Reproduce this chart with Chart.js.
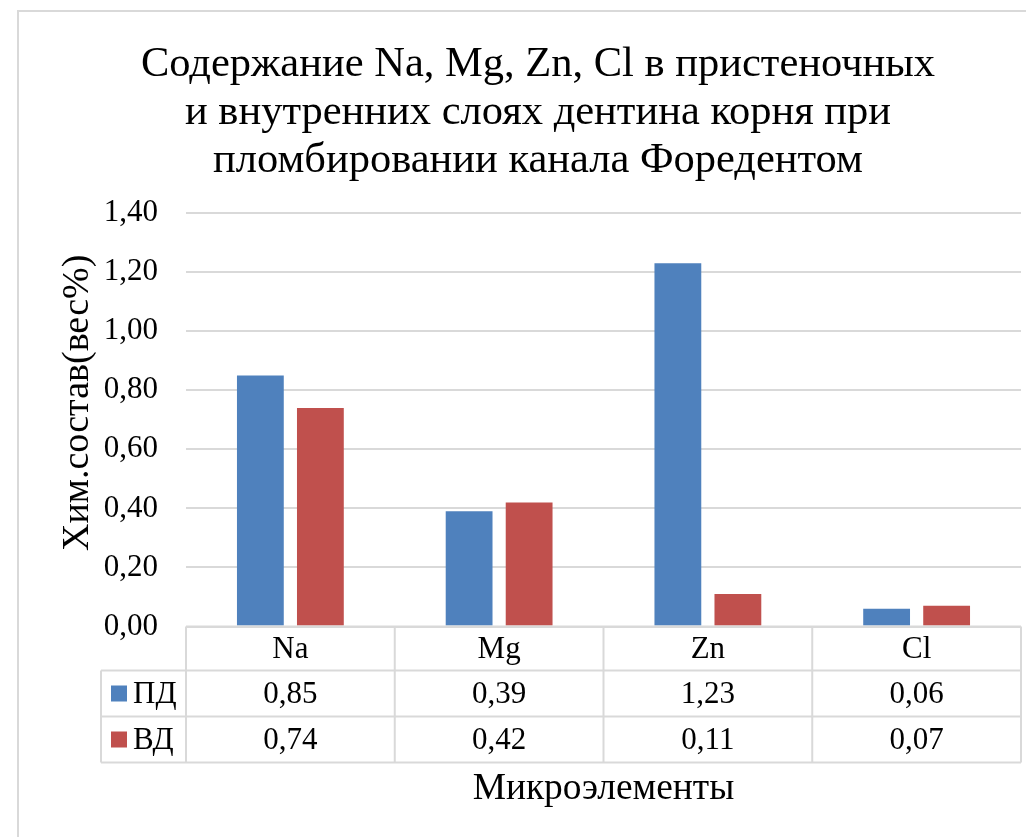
<!DOCTYPE html>
<html>
<head>
<meta charset="utf-8">
<script src="https://cdn.jsdelivr.net/npm/chart.js@4.4.1/dist/chart.umd.min.js"></script>
<style>
  html, body { margin: 0; padding: 0; background: #ffffff; }
  #wrap { width: 1026px; height: 837px; position: relative; }
</style>
</head>
<body>
<div id="wrap"><canvas id="c" width="1026" height="837"></canvas></div>
<script>
const chartTitle = ['Содержание Na, Mg, Zn, Cl в пристеночных', 'и внутренних слоях дентина корня при', 'пломбировании канала Форедентом'];
const categories = ['Na', 'Mg', 'Zn', 'Cl'];
const seriesNames = ['ПД', 'ВД'];
const seriesPD = [0.85, 0.39, 1.23, 0.06];
const seriesVD = [0.74, 0.42, 0.11, 0.07];
const seriesColors = ['#4f81bd', '#c0504d'];
const yAxisTitle = 'Хим.состав(вес%)';
const xAxisTitle = 'Микроэлементы';
const yMin = 0, yMax = 1.4, yStep = 0.2;

const FONT = "'Liberation Serif', 'Times New Roman', serif";
const GRID = '#d9d9d9';
const fmt = v => Number(v).toFixed(2).replace('.', ',');

const frame = {
  id: 'frame',
  beforeDraw(chart) {
    const ctx = chart.ctx;
    ctx.save();
    ctx.fillStyle = '#ffffff';
    ctx.fillRect(0, 0, chart.width, chart.height);
    ctx.strokeStyle = GRID;
    ctx.lineWidth = 2;
    ctx.strokeRect(18, 11, chart.width + 40, chart.height + 40);
    ctx.restore();
  }
};

const yTitle = {
  id: 'yTitle',
  afterDraw(chart) {
    const ctx = chart.ctx;
    const area = chart.chartArea;
    ctx.save();
    ctx.translate(78, (area.top + area.bottom) / 2 - 17);
    ctx.rotate(-Math.PI / 2);
    ctx.fillStyle = '#000000';
    ctx.font = '38px ' + FONT;
    ctx.textAlign = 'center';
    ctx.textBaseline = 'middle';
    ctx.fillText(yAxisTitle, 0, 0);
    ctx.restore();
  }
};

const dataTable = {
  id: 'dataTable',
  afterDraw(chart) {
    const ctx = chart.ctx;
    const xs = chart.scales.x;
    const area = chart.chartArea;
    const n = categories.length;
    const edges = [];
    for (let i = 0; i <= n; i++) edges.push(xs.getPixelForValue(i - 0.5));
    const legendLeft = 101;
    const rows = [area.bottom, area.bottom + 44, area.bottom + 90, area.bottom + 136];
    ctx.save();
    ctx.strokeStyle = GRID;
    ctx.lineWidth = 2;
    ctx.beginPath();
    ctx.moveTo(edges[0], rows[0]); ctx.lineTo(edges[n], rows[0]);
    for (let r = 1; r < rows.length; r++) {
      ctx.moveTo(legendLeft, rows[r]); ctx.lineTo(edges[n], rows[r]);
    }
    for (let i = 0; i <= n; i++) {
      ctx.moveTo(edges[i], rows[0]); ctx.lineTo(edges[i], rows[3]);
    }
    ctx.moveTo(legendLeft, rows[1]); ctx.lineTo(legendLeft, rows[3]);
    ctx.stroke();

    ctx.fillStyle = '#000000';
    ctx.font = '31px ' + FONT;
    ctx.textAlign = 'center';
    ctx.textBaseline = 'middle';
    for (let i = 0; i < n; i++) {
      const cx = (edges[i] + edges[i + 1]) / 2;
      ctx.fillText(categories[i], cx, (rows[0] + rows[1]) / 2 + 1);
      chart.data.datasets.forEach((ds, d) => {
        ctx.fillText(fmt(ds.data[i]), cx, (rows[d + 1] + rows[d + 2]) / 2 + 1);
      });
    }
    ctx.textAlign = 'left';
    chart.data.datasets.forEach((ds, d) => {
      const cy = (rows[d + 1] + rows[d + 2]) / 2;
      ctx.fillStyle = ds.backgroundColor;
      ctx.fillRect(111, cy - 8, 16, 16);
      ctx.fillStyle = '#000000';
      ctx.fillText(ds.label, 133, cy + 1);
    });
    ctx.restore();
  }
};

new Chart(document.getElementById('c'), {
  type: 'bar',
  data: {
    labels: categories,
    datasets: [
      { label: seriesNames[0], data: seriesPD, backgroundColor: seriesColors[0], borderWidth: 0 },
      { label: seriesNames[1], data: seriesVD, backgroundColor: seriesColors[1], borderWidth: 0 }
    ]
  },
  options: {
    responsive: false,
    devicePixelRatio: 1,
    animation: false,
    categoryPercentage: 0.575,
    barPercentage: 0.78,
    layout: { padding: { top: 0, left: 55, right: 5, bottom: 0 } },
    plugins: {
      legend: { display: false },
      tooltip: { enabled: false },
      title: {
        display: true,
        text: chartTitle,
        color: '#000000',
        font: { family: FONT, size: 42.5, weight: 'normal', lineHeight: 1.13 },
        padding: { top: 41, bottom: 28 }
      }
    },
    scales: {
      x: {
        grid: { display: false },
        border: { display: false },
        ticks: { display: false },
        afterFit(scale) { scale.height = 210.5; },
        title: {
          display: true,
          text: xAxisTitle,
          color: '#000000',
          font: { family: FONT, size: 37.4, lineHeight: 1.2 },
          padding: { top: 0, bottom: 25 }
        }
      },
      y: {
        min: yMin,
        max: yMax,
        border: { display: false },
        grid: { color: GRID, lineWidth: 2, drawTicks: false },
        ticks: {
          stepSize: yStep,
          padding: 28,
          color: '#000000',
          font: { family: FONT, size: 31 },
          callback: v => fmt(v)
        },
        afterFit(scale) { scale.width = 131; },
        title: { display: false }
      }
    }
  },
  plugins: [frame, dataTable, yTitle]
});
</script>
</body>
</html>
